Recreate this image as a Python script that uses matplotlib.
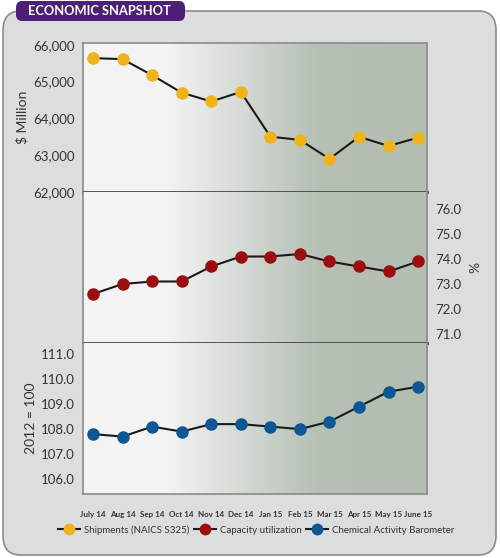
import numpy as np
import matplotlib.pyplot as plt
from matplotlib.patches import FancyBboxPatch
from matplotlib.colors import LinearSegmentedColormap
from matplotlib.lines import Line2D

plt.rcParams['font.family'] = ['Lato', 'DejaVu Sans']

months = ['July 14', 'Aug 14', 'Sep 14', 'Oct 14', 'Nov 14', 'Dec 14',
          'Jan 15', 'Feb 15', 'Mar 15', 'Apr 15', 'May 15', 'June 15']
shipments = [65640, 65610, 65175, 64700, 64460, 64720,
             63505, 63415, 62900, 63500, 63250, 63480]
capacity = [72.6, 73.0, 73.1, 73.1, 73.7, 74.1,
            74.1, 74.2, 73.9, 73.7, 73.5, 73.9]
cab = [107.8, 107.7, 108.1, 107.9, 108.2, 108.2,
       108.1, 108.0, 108.3, 108.9, 109.5, 109.7]

ship_ticks = [62000, 63000, 64000, 65000, 66000]
cap_ticks = [71.0, 72.0, 73.0, 74.0, 75.0, 76.0]
cab_ticks = [106.0, 107.0, 108.0, 109.0, 110.0, 111.0]

W, H = 500, 558
fig = plt.figure(figsize=(W / 100, H / 100), dpi=100)
fig.patch.set_facecolor('white')

# outer rounded panel and title badge
outer = FancyBboxPatch((3 / W, 3 / H), 493 / W, 544 / H,
                       boxstyle="round,pad=0,rounding_size=0.035",
                       transform=fig.transFigure, facecolor='#dcdddf',
                       edgecolor='#8c8c8c', linewidth=1.2, zorder=-5)
fig.patches.append(outer)
badge = FancyBboxPatch((16 / W, 1 - 21 / H), 169 / W, 20 / H,
                       boxstyle="round,pad=0,rounding_size=0.012",
                       transform=fig.transFigure, facecolor='#4e1f78',
                       edgecolor='none', zorder=-4)
fig.patches.append(badge)
fig.text(99 / W, 1 - 11 / H, 'ECONOMIC SNAPSHOT', color='white',
         fontsize=9.3, fontweight='bold', ha='center', va='center')

left, width = 83 / W, 344 / W
ax1 = fig.add_axes([left, 1 - 192 / H, width, 149 / H])
ax2 = fig.add_axes([left, 1 - 343 / H, width, 151 / H])
ax3 = fig.add_axes([left, 1 - 494 / H, width, 151 / H])

grad = LinearSegmentedColormap.from_list(
    'bg', [(0.0, '#f4f4f4'), (0.25, '#f2f3f2'), (0.68, '#b6c0b5'), (1.0, '#b3bdb1')])
x = np.linspace(0, 1, 400).reshape(1, -1)

x_idx = np.arange(len(months))
series = [(ax1, shipments, '#f0b31c', ship_ticks, (62000, 66050)),
          (ax2, capacity, '#9b0e10', cap_ticks, (70.64, 76.68)),
          (ax3, cab, '#0d5796', cab_ticks, (105.4, 111.45))]

for ax, vals, col, ticks, ylim in series:
    ax.imshow(x, aspect='auto', cmap=grad, extent=(-0.34, 11.3, ylim[0], ylim[1]),
              zorder=0)
    ax.plot(x_idx, vals, color='#1a1a1a', lw=1.5, marker='o', ms=8,
            mfc=col, mec=col, zorder=3)
    ax.set_xlim(-0.34, 11.3)
    ax.set_ylim(*ylim)
    ax.set_yticks(ticks)
    ax.set_xticks([])
    ax.tick_params(axis='y', length=0, labelsize=9.5, labelcolor='#333333', pad=6)
    for s in ax.spines.values():
        s.set_color('#8a8a8a')
        s.set_linewidth(1.2)

ax1.set_yticklabels([f'{t:,}' for t in ship_ticks])
ax1.spines['bottom'].set_color('#444444')
ax1.spines['bottom'].set_linewidth(2)
ax2.spines['top'].set_visible(False)
ax2.spines['bottom'].set_color('#444444')
ax2.spines['bottom'].set_linewidth(2)
ax3.spines['top'].set_visible(False)

ax2.yaxis.tick_right()
ax2.set_yticklabels([f'{t:.1f}' for t in cap_ticks])
ax3.set_yticklabels([f'{t:.1f}' for t in cab_ticks])

ax1.set_ylabel('$ Million', fontsize=10, color='#333333', labelpad=3)
ax2.yaxis.set_label_position('right')
ax2.set_ylabel('%', fontsize=10, color='#333333', labelpad=6)
ax3.set_ylabel('2012 = 100', fontsize=10, color='#333333', labelpad=3)

ax3.set_xticks(x_idx)
ax3.set_xticklabels(months, fontsize=5.8, fontweight='bold', color='#333333')
ax3.tick_params(axis='x', length=0, pad=12)

handles = [Line2D([], [], color='#1a1a1a', lw=1.5, marker='o', ms=7.5, mfc=c, mec=c)
           for c in ['#f0b31c', '#9b0e10', '#0d5796']]
fig.legend(handles, ['Shipments (NAICS S325)', 'Capacity utilization',
                     'Chemical Activity Barometer'],
           loc='center', bbox_to_anchor=(256 / W, 1 - 530 / H), ncol=3,
           frameon=False, fontsize=7, handlelength=2.3, handletextpad=0.35,
           columnspacing=0.5, labelcolor='#333333')

fig.savefig('out.png', dpi=100, facecolor=fig.get_facecolor())
